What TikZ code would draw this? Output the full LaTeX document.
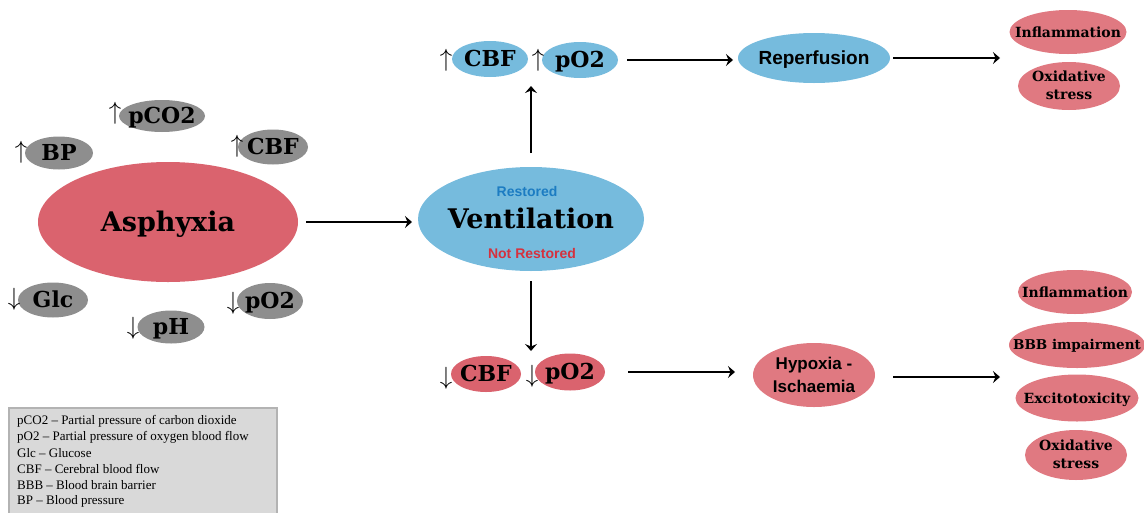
\documentclass[tikz,border=0pt]{standalone}
\usepackage{fontspec}
\setmainfont{DejaVu Serif}
\setsansfont{Liberation Sans}
\newfontfamily\legendfont{Liberation Serif}
\usetikzlibrary{shapes.geometric,arrows.meta}
\definecolor{grayfill}{HTML}{8E8E8E}
\definecolor{redfill}{HTML}{DA636E}
\definecolor{pinkfill}{HTML}{E07981}
\definecolor{bluefill}{HTML}{76BBDD}
\definecolor{restblue}{HTML}{1C7CC2}
\definecolor{notred}{HTML}{D5313E}
\definecolor{legfill}{HTML}{D9D9D9}
\definecolor{legdraw}{HTML}{B3B3B3}
\newcommand\myfs[2]{\fontsize{#1}{#2}\selectfont}
\newcommand\zb[1]{\makebox[0pt]{\smash{\raisebox{-0.36em}{#1}}}}
\newcommand\zbb[1]{\makebox[0pt]{\smash{\raisebox{-0.33em}{\begin{tabular}{@{}c@{}}#1\end{tabular}}}}}
\begin{document}
\begin{tikzpicture}[x=1pt,y=-1pt,
  ell/.style={ellipse, draw=none, inner sep=0pt, outer sep=0pt},
  graylab/.style={ell, fill=grayfill, font=\bfseries\myfs{22}{22}},
  toplab/.style={ell, fill=bluefill, font=\bfseries\myfs{22}{22}},
  botlab/.style={ell, fill=redfill, font=\bfseries\myfs{22}{22}},
  effect/.style={ell, fill=pinkfill, font=\bfseries\myfs{14}{18}},
  updown/.style={inner sep=0pt, font=\myfs{24}{24}},
  arr/.style={-{Stealth[length=7pt,width=12pt,inset=2.5pt]}, line width=2pt},
  legtext/.style={anchor=west, inner sep=0pt, font=\legendfont\myfs{13}{13}}
]
\useasboundingbox (0,0) rectangle (1144,512);

% Asphyxia cluster
\node[ell, fill=redfill, minimum width=260pt, minimum height=120pt, font=\bfseries\myfs{27}{27}] (asph) at (168,222) {\zb{Asphyxia}};
\node[graylab, minimum width=86pt, minimum height=32pt] (pco2) at (162,116) {\zb{pCO2}};
\node[graylab, minimum width=68pt, minimum height=33pt] (bp) at (59,153) {\zb{BP}};
\node[graylab, minimum width=70pt, minimum height=35pt] (acbf) at (273,147) {\zb{CBF}};
\node[graylab, minimum width=70pt, minimum height=35pt] (glc) at (53,300) {\zb{Glc}};
\node[graylab, minimum width=66pt, minimum height=36pt] (apo2) at (270,301) {\zb{pO2}};
\node[graylab, minimum width=67pt, minimum height=33pt] (ph) at (171,327) {\zb{pH}};
\node[updown] (upco2) at (115,113) {$\uparrow$};
\node[updown] (upbp) at (21,152) {$\uparrow$};
\node[updown] (upcbf) at (237,146) {$\uparrow$};
\node[updown] (dnglc) at (14,299) {$\downarrow$};
\node[updown] (dnph) at (133,328) {$\downarrow$};
\node[updown] (dnpo2) at (233,303) {$\downarrow$};

% Ventilation
\node[ell, fill=bluefill, minimum width=226pt, minimum height=104pt, font=\bfseries\myfs{27}{27}] (vent) at (531,219) {\zb{Ventilation}};
\node[inner sep=0pt, text=restblue, font=\sffamily\bfseries\myfs{14}{14}] (rest) at (527,191) {Restored};
\node[inner sep=0pt, text=notred, font=\sffamily\bfseries\myfs{14}{14}] (notrest) at (532,253) {Not Restored};

% Top branch
\node[toplab, minimum width=76pt, minimum height=36pt] (tcbf) at (490,59) {\zb{CBF}};
\node[toplab, minimum width=76pt, minimum height=36pt] (tpo2) at (580,60) {\zb{pO2}};
\node[updown] (uptcbf) at (446,60) {$\uparrow$};
\node[updown] (uptpo2) at (538,60) {$\uparrow$};
\node[ell, fill=bluefill, minimum width=152pt, minimum height=50pt, font=\sffamily\bfseries\myfs{19}{19}] (reper) at (814,58) {\zb{Reperfusion}};
\node[effect, minimum width=117pt, minimum height=44pt] (tinfl) at (1068,32) {\zb{Inflammation}};
\node[effect, minimum width=102pt, minimum height=48pt] (toxid) at (1069,86) {\zbb{Oxidative\\stress}};
\coordinate (ttarget) at (1000,58);

% Bottom branch
\node[botlab, minimum width=70pt, minimum height=36pt] (bcbf) at (486,374) {\zb{CBF}};
\node[botlab, minimum width=70pt, minimum height=37pt] (bpo2) at (570,372) {\zb{pO2}};
\node[updown] (dnbcbf) at (446,378) {$\downarrow$};
\node[updown] (dnbpo2) at (532,376) {$\downarrow$};
\node[ell, fill=pinkfill, minimum width=122pt, minimum height=64pt, font=\sffamily\bfseries\myfs{17}{23}] (hypox) at (814,375) {\zbb{Hypoxia -\\Ischaemia}};
\node[effect, minimum width=114pt, minimum height=44pt] (binfl) at (1075,292) {\zb{Inflammation}};
\node[effect, minimum width=136pt, minimum height=46pt, font=\bfseries\myfs{13.5}{18}] (bbbb) at (1077,345) {\zb{BBB impairment}};
\node[effect, minimum width=123pt, minimum height=47pt] (bexc) at (1077,398) {\zb{Excitotoxicity}};
\node[effect, minimum width=102pt, minimum height=50pt] (boxid) at (1076,455) {\zbb{Oxidative\\stress}};
\coordinate (btarget) at (1000,377);

% Connectors
\draw[arr, shorten <=8pt, shorten >=6pt] (asph.east) -- (asph.east -| vent.west);
\draw[arr, shorten <=14pt, shorten >=9pt] (vent.north) -- (vent.north |- tcbf.south);
\draw[arr, shorten <=10pt, shorten >=5pt] (vent.south) -- (vent.south |- bcbf.north);
\draw[arr, shorten <=9pt, shorten >=5pt] (tpo2.east) -- (tpo2.east -| reper.west);
\draw[arr, shorten <=3pt] (reper.east) -- (ttarget);
\draw[arr, shorten <=23pt, shorten >=18pt] (bpo2.east) -- (bpo2.east -| hypox.west);
\draw[arr, shorten <=18pt] (hypox.east |- btarget) -- (btarget);

% Legend
\node[draw=legdraw, line width=2pt, fill=legfill, minimum width=268pt, minimum height=112pt, anchor=north west, inner sep=0pt] (legend) at (8,407) {};
\node[legtext] (l1) at (17,421) {pCO2 – Partial pressure of carbon dioxide};
\node[legtext] (l2) at (17,437) {pO2 – Partial pressure of oxygen blood flow};
\node[legtext] (l3) at (17,453) {Glc – Glucose};
\node[legtext] (l4) at (17,469) {CBF – Cerebral blood flow};
\node[legtext] (l5) at (17,485) {BBB – Blood brain barrier};
\node[legtext] (l6) at (17,501) {BP – Blood pressure};
\end{tikzpicture}
\end{document}
